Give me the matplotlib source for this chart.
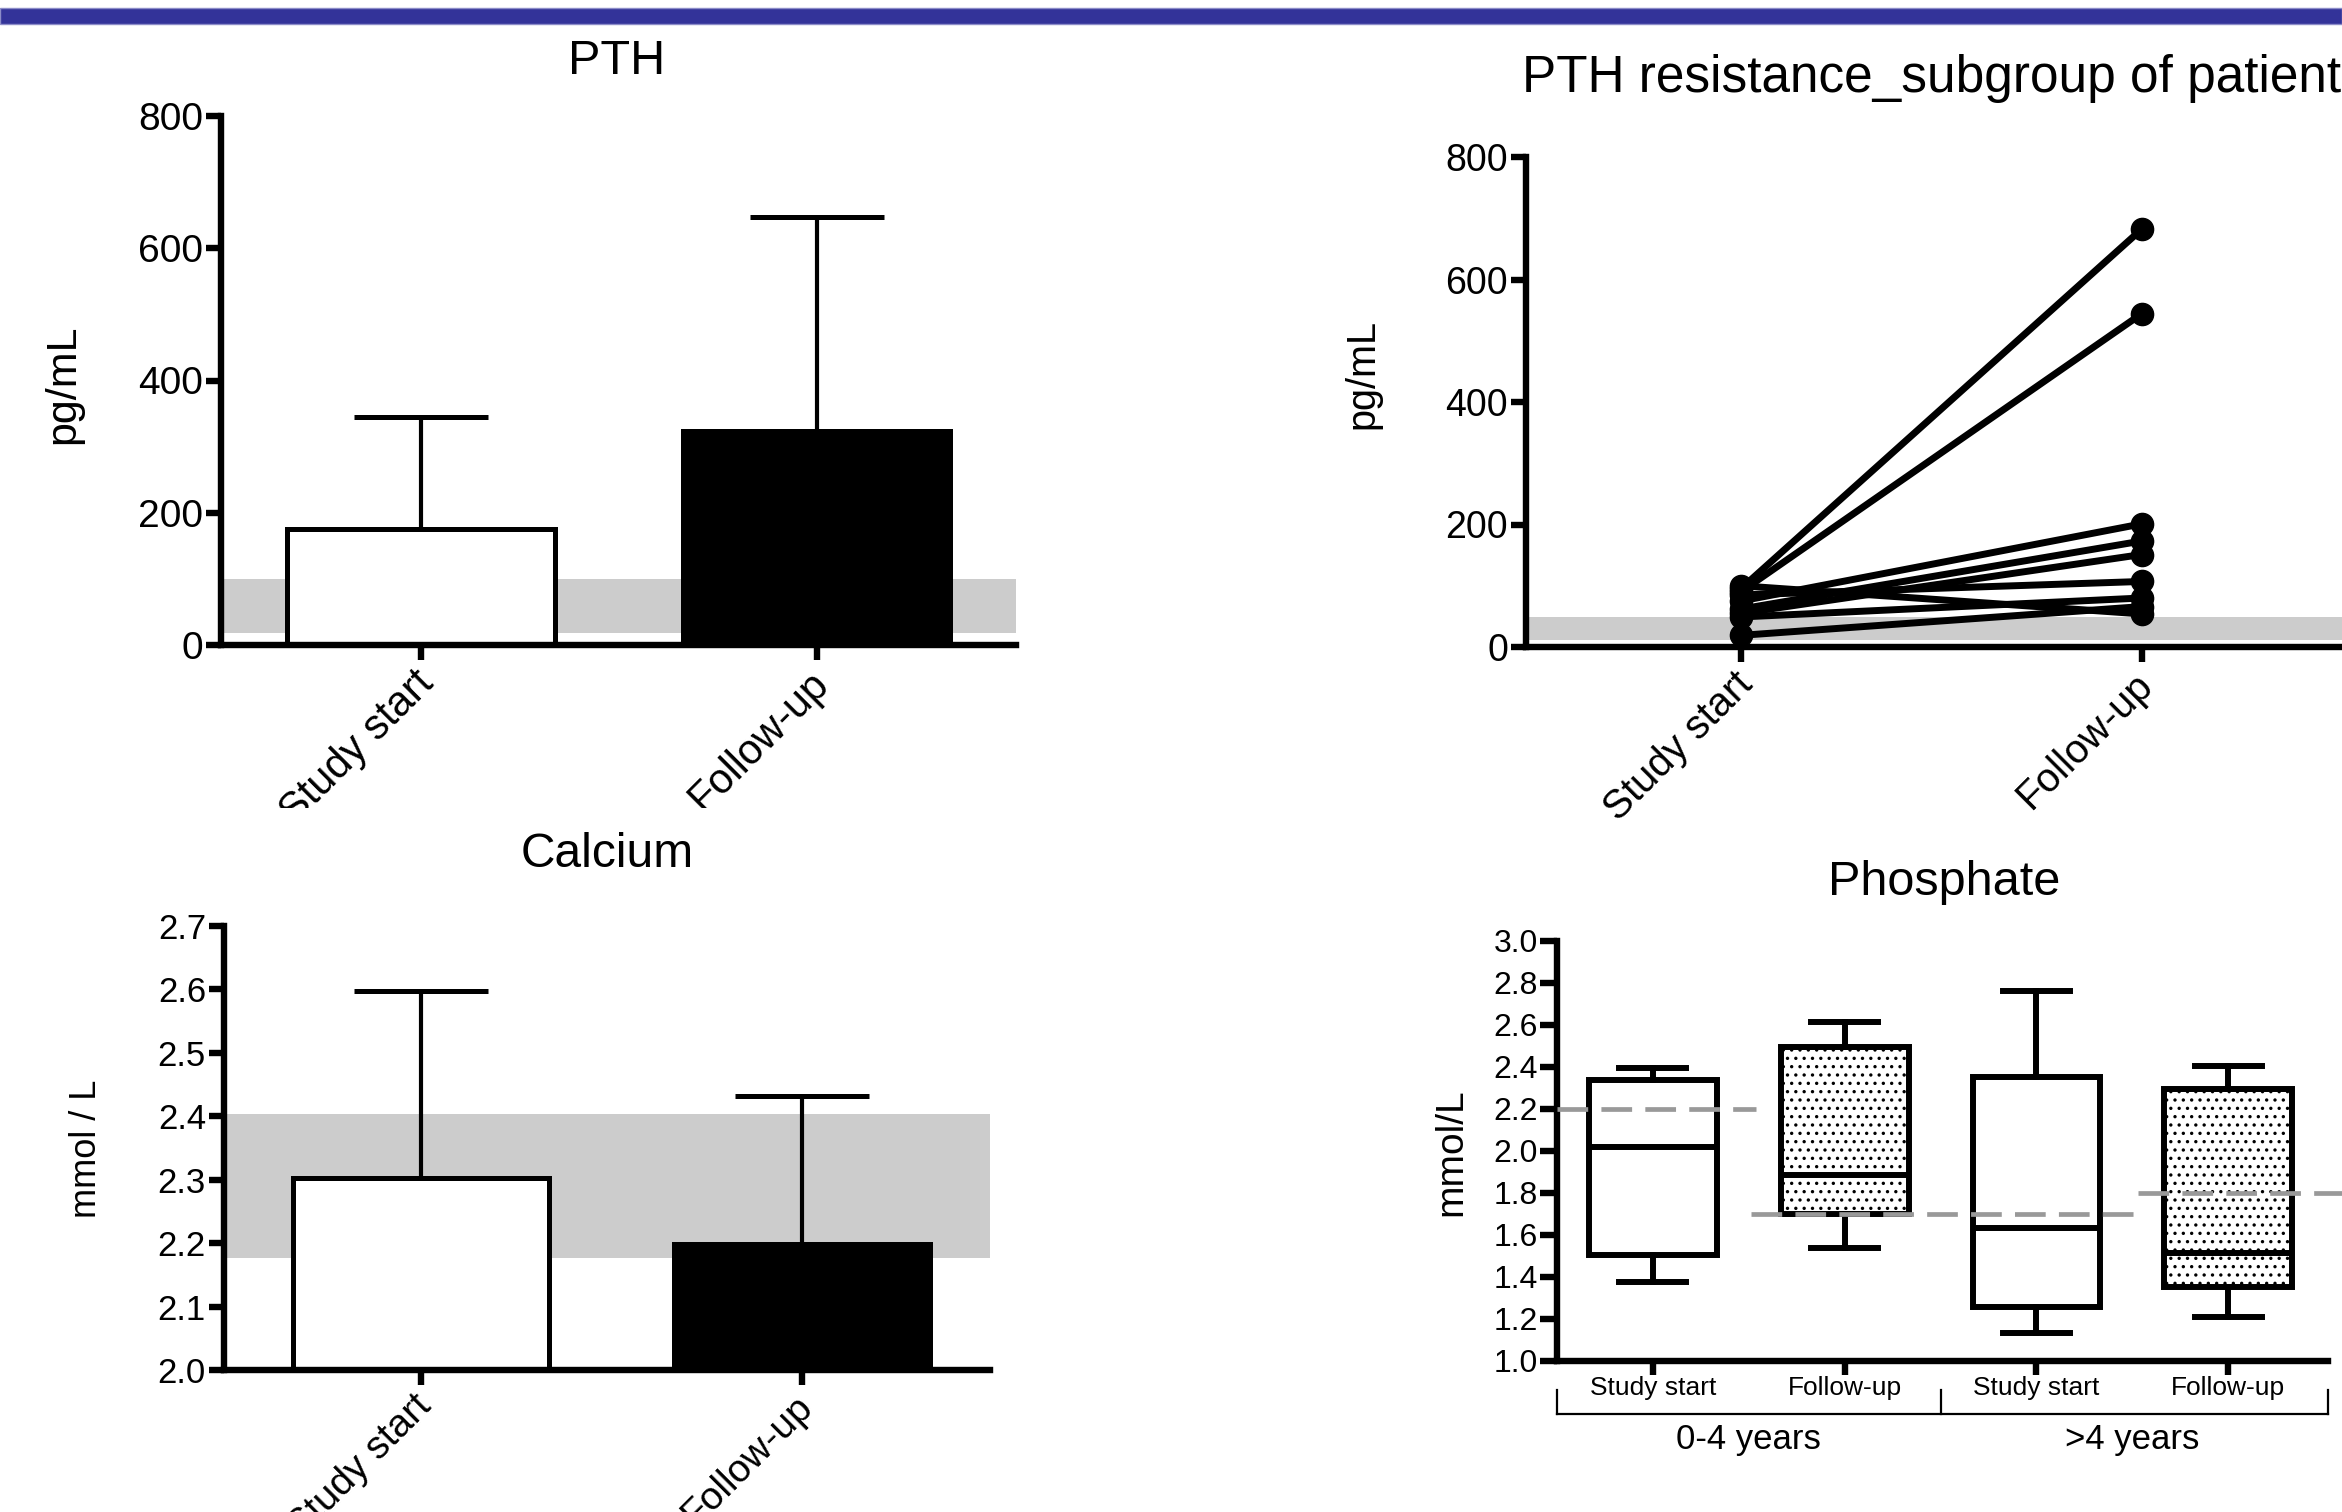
import matplotlib
matplotlib.use("Agg")
import matplotlib.pyplot as plt
import matplotlib.transforms as mtransforms
from matplotlib.patches import Rectangle

plt.rcParams['font.family'] = ['Liberation Sans', 'DejaVu Sans']
plt.rcParams['hatch.linewidth'] = 1.2

W, H = 2342, 1512

# ---- data ----
groups = ["Study start", "Follow-up"]

pth_mean = [175, 323]
pth_err = [170, 324]
pth_ref = (18, 100)

ca_mean = [2.303, 2.199]
ca_err = [0.295, 0.233]
ca_ref = (2.176, 2.403)

res_start = [95, 90, 75, 62, 55, 85, 49, 100, 19]
res_follow = [682, 544, 201, 173, 151, 107, 80, 54, 66]
res_ref = (11, 49)

phos_labels = ["Study start", "Follow-up", "Study start", "Follow-up"]
phos_low = [1.378, 1.537, 1.131, 1.211]
phos_q1 = [1.506, 1.700, 1.255, 1.352]
phos_med = [2.019, 1.888, 1.633, 1.513]
phos_q3 = [2.337, 2.493, 2.353, 2.296]
phos_high = [2.397, 2.614, 2.763, 2.405]
phos_groups = ["0-4 years", ">4 years"]
phos_limits = [2.2, 1.7, 1.8]


def add_ax(x0, x1, ytop, ybot, **kw):
    return fig.add_axes([x0 / W, 1 - ybot / H, (x1 - x0) / W, (ybot - ytop) / H], **kw)


def style(ax, lsize):
    for s in ["top", "right"]:
        ax.spines[s].set_visible(False)
    for s in ["left", "bottom"]:
        ax.spines[s].set_linewidth(4.6)
    ax.tick_params(direction="out", length=11, width=4.6, labelsize=lsize, pad=2)


def rotated_labels(ax, size):
    ax.set_xticks([0, 1])
    ax.set_xticklabels(groups, rotation=45, ha="right", rotation_mode="anchor", fontsize=size)
    shift = mtransforms.ScaledTranslation(-0.08, 0, fig.dpi_scale_trans)
    for lab in ax.get_xticklabels():
        lab.set_transform(lab.get_transform() + shift)


def ftext(x, y, s, size, **kw):
    fig.text(x / W, 1 - y / H, s, fontsize=size, **kw)


fig = plt.figure(figsize=(W / 100, H / 100), dpi=100)

# blue stripe on top
fig.add_artist(Rectangle((0, 1 - 24 / H), 1, 16 / H, transform=fig.transFigure,
                         facecolor="#333399", edgecolor="#8c8cc8", lw=1, zorder=5))

# ---- PTH bar chart ----
ax1 = add_ax(221, 1016, 116, 645, zorder=0)
x = [0, 1]
ax1.axhspan(pth_ref[0], pth_ref[1], color="#cccccc", lw=0, zorder=0)
ax1.bar(x, pth_mean, width=0.675, color=["white", "black"], edgecolor="black",
        linewidth=3.6, zorder=2)
eb = ax1.errorbar(x, pth_mean, yerr=[[0, 0], pth_err], fmt="none", ecolor="black",
                  elinewidth=3, capsize=48, capthick=3.6, zorder=3)
eb[1][0].set_visible(False)
ax1.set_xlim(-0.505, 1.503)
ax1.set_ylim(0, 800)
ax1.set_yticks([0, 200, 400, 600, 800])
style(ax1, 28)
rotated_labels(ax1, 30)

# white cover that cuts the lower tick label like in the source
fig.add_artist(Rectangle((0, 0), 1100 / W, 1 - 808 / H, transform=fig.transFigure,
                         facecolor="white", edgecolor="none", zorder=0.5))

# ---- PTH resistance subgroup ----
ax2 = add_ax(1526, W, 157, 647, zorder=0)
ax2.axhspan(res_ref[0], res_ref[1], color="#cccccc", lw=0, zorder=0)
for s, e in zip(res_start, res_follow):
    ax2.plot([0, 1], [s, e], "-o", color="black", lw=5, ms=16, clip_on=False, zorder=3)
ax2.set_xlim(-0.536, 1.5)
ax2.set_ylim(0, 800)
ax2.set_yticks([0, 200, 400, 600, 800])
style(ax2, 27)
rotated_labels(ax2, 29)

# ---- Calcium bar chart ----
ax3 = add_ax(224, 990, 926, 1370, zorder=1)
ax3.axhspan(ca_ref[0], ca_ref[1], color="#cccccc", lw=0, zorder=0)
ax3.bar(x, ca_mean, width=0.67, color=["white", "black"], edgecolor="black",
        linewidth=3.6, zorder=2)
eb = ax3.errorbar(x, ca_mean, yerr=[[0, 0], ca_err], fmt="none", ecolor="black",
                  elinewidth=3, capsize=48, capthick=3.6, zorder=3)
eb[1][0].set_visible(False)
ax3.set_xlim(-0.517, 1.493)
ax3.set_ylim(2.0, 2.7)
ax3.set_yticks([2.0, 2.1, 2.2, 2.3, 2.4, 2.5, 2.6, 2.7])
ax3.set_yticklabels([f"{v:.1f}" for v in ax3.get_yticks()])
style(ax3, 25)
rotated_labels(ax3, 28)

# ---- Phosphate box plot ----
ax4 = add_ax(1557, 2328, 941, 1361, zorder=1)
pos = [1, 2, 3, 4]
stats = [dict(whislo=lo, q1=q1, med=m, q3=q3, whishi=hi, label=lb)
         for lo, q1, m, q3, hi, lb in zip(phos_low, phos_q1, phos_med, phos_q3,
                                           phos_high, phos_labels)]
bp = ax4.bxp(stats, positions=pos, widths=0.667, capwidths=0.35, patch_artist=True,
             showfliers=False,
             boxprops=dict(facecolor="white", edgecolor="black", linewidth=4.3),
             whiskerprops=dict(color="black", linewidth=4.3),
             capprops=dict(color="black", linewidth=4.3),
             medianprops=dict(color="black", linewidth=4.3))
for i in (1, 3):
    bp["boxes"][i].set_hatch("..")
spans = [(0.5, 1.54), (1.51, 3.56), (3.53, 4.75)]
for lim, (a, b) in zip(phos_limits, spans):
    ax4.plot([a, b], [lim, lim], color="#999999", lw=3.4, dashes=(6.5, 2.8),
             zorder=5, clip_on=False)
ax4.set_xlim(0.5, 4.52)
ax4.set_ylim(1.0, 3.0)
ax4.set_yticks([1.0 + 0.2 * k for k in range(11)])
ax4.set_yticklabels([f"{v:.1f}" for v in ax4.get_yticks()])
style(ax4, 23)
ax4.tick_params(axis="y", length=12)
ax4.tick_params(axis="x", length=10, labelsize=19, pad=1)
ax4.set_xticks(pos)
ax4.set_xticklabels(phos_labels)
tr = mtransforms.blended_transform_factory(ax4.transData, ax4.transAxes)
ax4.plot([0.5, 4.52], [-0.127, -0.127], color="black", lw=1.6, transform=tr, clip_on=False)
for bx in (0.5, 2.5, 4.52):
    ax4.plot([bx, bx], [-0.127, -0.07], color="black", lw=1.6, transform=tr, clip_on=False)
for gx, g in zip((1.5, 3.5), phos_groups):
    ax4.text(gx, -0.186, g, transform=tr, ha="center", va="center", fontsize=25)

# ---- titles and axis labels ----
ftext(617, 74, "PTH", 35, ha="center", va="baseline")
ftext(1522, 92, "PTH resistance_subgroup of patients", 37.0, ha="left", va="baseline")
ftext(607, 867, "Calcium", 34.5, ha="center", va="baseline")
ftext(1944, 895, "Phosphate", 35, ha="center", va="baseline")

ftext(63, 384, "pg/mL", 31, rotation=90, ha="center", va="center")
ftext(1362, 374, "pg/mL", 28.5, rotation=90, ha="center", va="center")
ftext(87, 1149, "mmol / L", 26, rotation=90, ha="center", va="center")
ftext(1451, 1152, "mmol/L", 28, rotation=90, ha="center", va="center")

fig.savefig("out.png", dpi=100)
